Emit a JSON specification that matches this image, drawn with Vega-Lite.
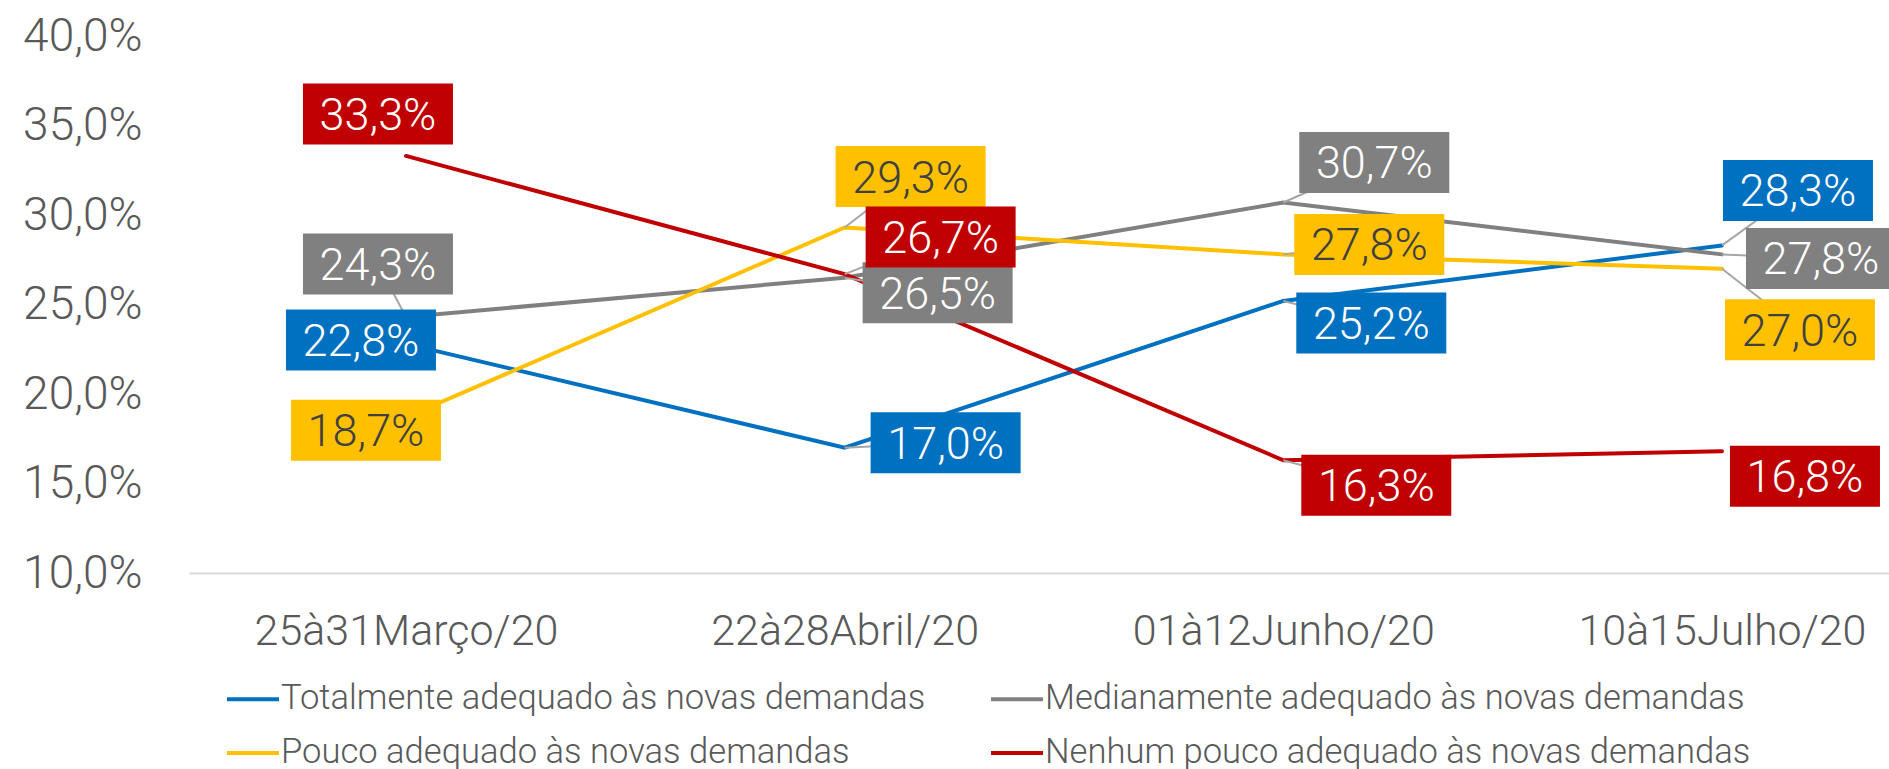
{
  "$schema": "https://vega.github.io/schema/vega-lite/v6.json",
  "width": 1700,
  "height": 537,
  "autosize": {"type": "none"},
  "padding": {"left": 189, "top": 36, "right": 0, "bottom": 196},
  "background": "white",
  "config": {"view": {"stroke": null}, "font": "Roboto"},
  "data": {"values": [
    {"period": "25à31Março/20", "series": "Totalmente adequado às novas demandas", "value": 22.8},
    {"period": "22à28Abril/20", "series": "Totalmente adequado às novas demandas", "value": 17.0},
    {"period": "01à12Junho/20", "series": "Totalmente adequado às novas demandas", "value": 25.2},
    {"period": "10à15Julho/20", "series": "Totalmente adequado às novas demandas", "value": 28.3},
    {"period": "25à31Março/20", "series": "Medianamente adequado às novas demandas", "value": 24.3},
    {"period": "22à28Abril/20", "series": "Medianamente adequado às novas demandas", "value": 26.5},
    {"period": "01à12Junho/20", "series": "Medianamente adequado às novas demandas", "value": 30.7},
    {"period": "10à15Julho/20", "series": "Medianamente adequado às novas demandas", "value": 27.8},
    {"period": "25à31Março/20", "series": "Pouco adequado às novas demandas", "value": 18.7},
    {"period": "22à28Abril/20", "series": "Pouco adequado às novas demandas", "value": 29.3},
    {"period": "01à12Junho/20", "series": "Pouco adequado às novas demandas", "value": 27.8},
    {"period": "10à15Julho/20", "series": "Pouco adequado às novas demandas", "value": 27.0},
    {"period": "25à31Março/20", "series": "Nenhum pouco adequado às novas demandas", "value": 33.3},
    {"period": "22à28Abril/20", "series": "Nenhum pouco adequado às novas demandas", "value": 26.7},
    {"period": "01à12Junho/20", "series": "Nenhum pouco adequado às novas demandas", "value": 16.3},
    {"period": "10à15Julho/20", "series": "Nenhum pouco adequado às novas demandas", "value": 16.8}
  ]},
  "transform": [
    {"calculate": "indexof('TMPN', substring(datum.series, 0, 1))", "as": "si"},
    {"calculate": "indexof(['25à31Março/20','22à28Abril/20','01à12Junho/20','10à15Julho/20'], datum.period)", "as": "pi"},
    {"calculate": "replace(format(datum.value, '.1f'), '.', ',') + '%'", "as": "label"}
  ],
  "encoding": {
    "x": {
      "field": "period", "type": "nominal",
      "sort": ["25à31Março/20", "22à28Abril/20", "01à12Junho/20", "10à15Julho/20"],
      "scale": {"type": "point", "padding": 0.4377, "align": 0.565},
      "axis": {
        "title": null, "labelAngle": 0, "ticks": false, "tickSize": 0, "labelLimit": 0,
        "labelPadding": 37, "labelFontSize": 43, "labelFontWeight": 300,
        "labelColor": "#595959", "labelFont": "Roboto",
        "domain": true, "domainColor": "#d9d9d9", "domainWidth": 2, "grid": false
      }
    },
    "y": {
      "field": "value", "type": "quantitative",
      "scale": {"domain": [10, 40], "nice": false, "zero": false},
      "axis": {
        "title": null, "values": [10, 15, 20, 25, 30, 35, 40],
        "labelExpr": "replace(format(datum.value, '.1f'), '.', ',') + '%'",
        "domain": false, "ticks": false, "grid": false,
        "labelPadding": 47, "labelFontSize": 46, "labelFontWeight": 300,
        "labelColor": "#595959", "labelFont": "Roboto"
      }
    }
  },
  "layer": [
    {
      "mark": {"type": "line", "strokeWidth": 4, "strokeCap": "round"},
      "encoding": {
        "color": {
          "field": "series", "type": "nominal",
          "scale": {
            "domain": ["Totalmente adequado às novas demandas", "Medianamente adequado às novas demandas", "Pouco adequado às novas demandas", "Nenhum pouco adequado às novas demandas"],
            "range": ["#0070c0", "#808080", "#ffc000", "#c00000"]
          },
          "legend": {
            "title": null, "orient": "none", "legendX": 36, "legendY": 635,
            "values": ["Totalmente adequado às novas demandas", "Pouco adequado às novas demandas", "Medianamente adequado às novas demandas", "Nenhum pouco adequado às novas demandas"],
            "columns": 2, "symbolType": "stroke", "symbolStrokeWidth": 4, "symbolSize": 2704,
            "labelFontSize": 34.6, "labelFontWeight": 300, "labelColor": "#595959", "labelFont": "Roboto",
            "labelOffset": 0, "labelLimit": 0, "columnPadding": 57, "rowPadding": 9
          }
        }
      }
    },
    {
      "transform": [{"filter": "indexof(['T0','P0','N0','N3'], substring(datum.series, 0, 1) + datum.pi) < 0"}],
      "mark": {
        "type": "rule", "color": "#a6a6a6", "strokeWidth": 2,
        "x2Offset": {"expr": "[[-45,101,88,76],[-28,93,91,99],[-40,66,86,78],[-28,96,93,83]][datum.si][datum.pi]"},
        "y2Offset": {"expr": "[[-4,-5,22,-55],[-53,15,-40,4],[13,-51,-10,61],[-42,-37,25,25]][datum.si][datum.pi]"}
      },
      "encoding": {
        "x2": {"field": "period"},
        "y2": {"field": "value"}
      }
    },
    {
      "mark": {
        "type": "rect", "width": 150, "height": 61,
        "xOffset": {"expr": "[[-45,101,88,76],[-28,93,91,99],[-40,66,86,78],[-28,96,93,83]][datum.si][datum.pi]"},
        "yOffset": {"expr": "[[-4,-5,22,-55],[-53,15,-40,4],[13,-51,-10,61],[-42,-37,25,25]][datum.si][datum.pi]"}
      },
      "encoding": {
        "color": {"field": "series", "type": "nominal", "legend": null}
      }
    },
    {
      "mark": {
        "type": "text", "align": "center", "baseline": "middle",
        "fontSize": 45, "fontWeight": 300, "font": "Roboto",
        "dx": {"expr": "[[-45,101,88,76],[-28,93,91,99],[-40,66,86,78],[-28,96,93,83]][datum.si][datum.pi]"},
        "dy": {"expr": "[[-4,-5,22,-55],[-53,15,-40,4],[13,-51,-10,61],[-42,-37,25,25]][datum.si][datum.pi] + 2"}
      },
      "encoding": {
        "text": {"field": "label"},
        "color": {
          "condition": {"test": "datum.series === 'Pouco adequado às novas demandas'", "value": "#404040"},
          "value": "#ffffff"
        }
      }
    }
  ]
}
